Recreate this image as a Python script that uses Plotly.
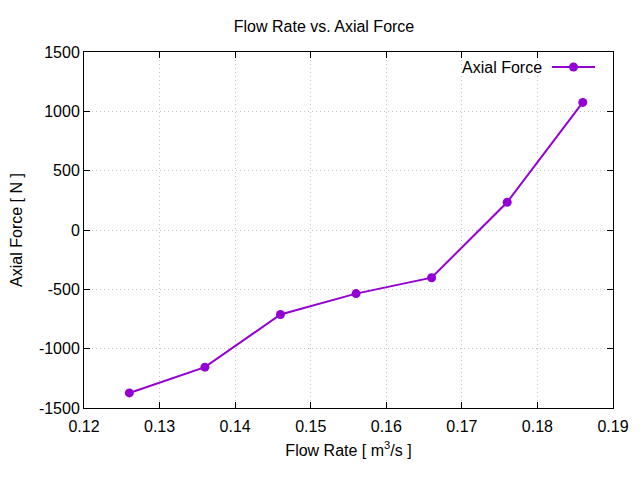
import plotly.graph_objects as go

flow_rate = [0.126, 0.136, 0.146, 0.156, 0.166, 0.176, 0.186]
axial_force = [-1373, -1156, -712, -536, -402, 234, 1075]
x_ticks = [0.12, 0.13, 0.14, 0.15, 0.16, 0.17, 0.18, 0.19]
y_ticks = [-1500, -1000, -500, 0, 500, 1000, 1500]

color = "#9400D3"
font = "Liberation Sans, Arial, sans-serif"
fs = 16

W, H = 632, 472          # page has an 8px body margin
OFF = 8
L, R, T, B = 84 - OFF, 640 - 613, 52 - OFF, H - (408 - OFF)
PW, PH = W - L - R, H - T - B

fig = go.Figure()
fig.add_trace(go.Scatter(
    x=flow_rate, y=axial_force, mode="lines+markers",
    name="Axial Force",
    line=dict(color=color, width=2),
    marker=dict(color=color, size=9),
    showlegend=False,
))

axis_common = dict(
    showline=True, linecolor="black", linewidth=1, mirror="allticks",
    ticks="inside", ticklen=6, tickcolor="black", tickwidth=1,
    showgrid=True, gridcolor="#c4c4c4", griddash="1px,3px", gridwidth=1,
    zeroline=False, automargin=False,
    tickfont=dict(family=font, size=fs, color="black"),
)

fig.update_layout(
    width=W, height=H,
    margin=dict(l=L, r=R, t=T, b=B),
    paper_bgcolor="white", plot_bgcolor="white",
    font=dict(family=font, size=fs, color="black"),
    title=dict(text="Flow Rate vs. Axial Force", x=0.5, xanchor="center",
               y=1 - (26 - OFF) / H, yanchor="middle",
               font=dict(family=font, size=fs, color="black")),
    xaxis=dict(range=[0.12, 0.19], tickvals=x_ticks,
               ticktext=[f"{v:.2f}" for v in x_ticks],
               ticklabelstandoff=4,
               title=dict(text="Flow Rate [ m<sup>3</sup>/s ]", standoff=10,
                          font=dict(family=font, size=fs)),
               **axis_common),
    yaxis=dict(range=[-1500, 1500], tickvals=y_ticks,
               ticktext=[str(v) for v in y_ticks],
               title=dict(text="Axial Force [ N ]", standoff=14,
                          font=dict(family=font, size=fs)),
               **axis_common),
)

def px(xp):
    return (xp - 84) / PW

def py(yp):
    return (408 - yp) / PH

# gnuplot-style key: text on the left, sample on the right
fig.add_annotation(
    text="Axial Force", xref="paper", yref="paper",
    x=px(544), y=py(67), xanchor="right", yanchor="middle",
    showarrow=False, font=dict(family=font, size=fs, color="black"),
)
fig.add_shape(type="line", xref="paper", yref="paper",
              x0=px(552), x1=px(595), y0=py(67), y1=py(67),
              line=dict(color=color, width=2))
fig.add_shape(type="circle", xref="paper", yref="paper",
              x0=px(573.5 - 4.5), x1=px(573.5 + 4.5),
              y0=py(67 + 4.5), y1=py(67 - 4.5),
              fillcolor=color, line=dict(color=color, width=0))

fig.write_html("out.html")
